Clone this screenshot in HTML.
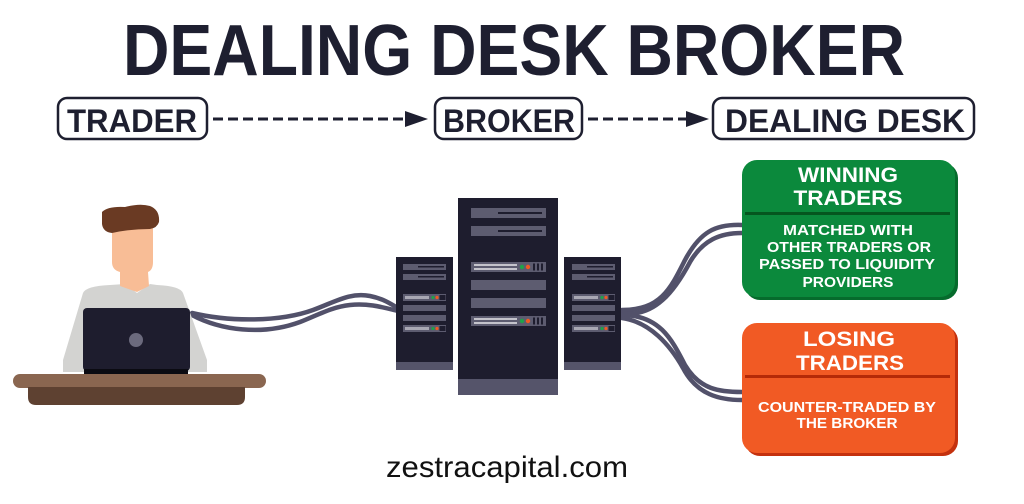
<!DOCTYPE html>
<html><head><meta charset="utf-8"><style>
html,body{margin:0;padding:0;background:#fff;}
svg{display:block;}
text{font-family:"Liberation Sans",Arial,sans-serif;}
</style></head><body>
<svg width="1024" height="504" viewBox="0 0 1024 504" xmlns="http://www.w3.org/2000/svg">
<rect width="1024" height="504" fill="#fff"/>
<!-- Title -->
<text x="123" y="75" font-size="72" font-weight="bold" fill="#1e1f30" textLength="782" lengthAdjust="spacingAndGlyphs">DEALING DESK BROKER</text>

<!-- Row 2 -->
<g fill="none" stroke="#1e1f30" stroke-width="2.5">
<rect x="58" y="98" width="149" height="41" rx="9"/>
<rect x="435" y="98" width="147" height="41" rx="9"/>
<rect x="713" y="98" width="261" height="41" rx="9"/>
</g>
<g font-size="32" font-weight="bold" fill="#1e1f30">
<text x="67" y="132" textLength="130" lengthAdjust="spacingAndGlyphs">TRADER</text>
<text x="443" y="132" textLength="132" lengthAdjust="spacingAndGlyphs">BROKER</text>
<text x="725" y="132" textLength="240" lengthAdjust="spacingAndGlyphs">DEALING DESK</text>
</g>
<g stroke="#1e1f30" stroke-width="3" stroke-dasharray="10 5">
<line x1="213" y1="119" x2="406" y2="119"/>
<line x1="588" y1="119" x2="687" y2="119"/>
</g>
<polygon points="405,111 428,119 405,127" fill="#1e1f30"/>
<polygon points="686,111 709,119 686,127" fill="#1e1f30"/>

<!-- Cables -->
<g fill="none" stroke="#52516a" stroke-width="4.5" stroke-linecap="round">
<path d="M192,313 C230,322 280,322 313,310 C335,302 350,292 370,296 C385,299 392,305 398,308"/>
<path d="M192,315 C220,330 262,336 300,322 C320,314 332,307 350,305 C370,303 385,308 398,311"/>
<path d="M622,310 C660,310 670,290 685,260 C700,232 715,224 742,225"/>
<path d="M622,313 C655,318 675,290 690,262 C703,240 720,233 742,233"/>
<path d="M622,315 C660,315 672,340 685,365 C700,390 720,392 742,392"/>
<path d="M622,318 C650,322 670,345 683,368 C697,395 720,400 742,400"/>
</g>

<!-- Person -->
<path d="M83,293 Q86,286 110,285 L125,284 L137,293 L150,284 L157,285 Q180,286 183,293 L207,360 L207,372 L63,372 L63,360 Z" fill="#d3d3d1"/>
<path d="M112,222 L153,222 L153,262 Q153,270 148,272 L149,286 L137,292 L120,286 L120,272 Q112,270 112,262 Z" fill="#f8bd96"/>
<path d="M102,212 Q108,206 125,207 Q140,203 150,206 Q160,210 159,222 Q157,228 150,229 Q130,229 112,233 Q103,232 102,224 Z" fill="#6a3a23"/>
<rect x="83" y="308" width="107" height="63" rx="4" fill="#1e1d2e"/>
<circle cx="136" cy="340" r="7" fill="#6b6a7d"/>
<rect x="84" y="369" width="104" height="6" fill="#0b0b12"/>
<rect x="13" y="374" width="253" height="14" rx="7" fill="#8a6650"/>
<path d="M28,387 L245,387 L245,397 Q245,405 237,405 L36,405 Q28,405 28,397 Z" fill="#5e4131"/>

<!-- Left server -->
<rect x="396" y="257" width="57" height="113" fill="#1e1d2e"/>
<rect x="396" y="362" width="57" height="8" fill="#55546a"/>
<g fill="#5d5c70">
<rect x="403" y="264" width="43" height="6"/>
<rect x="403" y="274" width="43" height="6"/>
<rect x="403" y="294" width="43" height="7"/>
<rect x="403" y="305" width="43" height="6"/>
<rect x="403" y="315" width="43" height="6"/>
<rect x="403" y="325" width="43" height="7"/>
</g>
<g fill="#1e1d2e"><rect x="418" y="266" width="26" height="1.5"/><rect x="418" y="276" width="26" height="1.5"/></g>
<g fill="#a9a8b4"><rect x="405" y="296" width="24" height="3"/><rect x="405" y="327" width="24" height="3"/></g>
<g><circle cx="433" cy="297.5" r="1.6" fill="#1fa34a"/><circle cx="437" cy="297.5" r="1.6" fill="#f05a23"/><rect x="439.5" y="295" width="6" height="5" fill="#1e1d2e"/>
<circle cx="433" cy="328.5" r="1.6" fill="#1fa34a"/><circle cx="437" cy="328.5" r="1.6" fill="#f05a23"/><rect x="439.5" y="326" width="6" height="5" fill="#1e1d2e"/></g>

<!-- Right server -->
<rect x="564" y="257" width="57" height="113" fill="#1e1d2e"/>
<rect x="564" y="362" width="57" height="8" fill="#55546a"/>
<g fill="#5d5c70">
<rect x="572" y="264" width="43" height="6"/>
<rect x="572" y="274" width="43" height="6"/>
<rect x="572" y="294" width="43" height="7"/>
<rect x="572" y="305" width="43" height="6"/>
<rect x="572" y="315" width="43" height="6"/>
<rect x="572" y="325" width="43" height="7"/>
</g>
<g fill="#1e1d2e"><rect x="587" y="266" width="26" height="1.5"/><rect x="587" y="276" width="26" height="1.5"/></g>
<g fill="#a9a8b4"><rect x="574" y="296" width="24" height="3"/><rect x="574" y="327" width="24" height="3"/></g>
<g><circle cx="602" cy="297.5" r="1.6" fill="#1fa34a"/><circle cx="606" cy="297.5" r="1.6" fill="#f05a23"/><rect x="608.5" y="295" width="6" height="5" fill="#1e1d2e"/>
<circle cx="602" cy="328.5" r="1.6" fill="#1fa34a"/><circle cx="606" cy="328.5" r="1.6" fill="#f05a23"/><rect x="608.5" y="326" width="6" height="5" fill="#1e1d2e"/></g>

<!-- Center server -->
<rect x="458" y="198" width="100" height="197" fill="#1e1d2e"/>
<rect x="458" y="379" width="100" height="16" fill="#55546a"/>
<g fill="#5d5c70">
<rect x="471" y="208" width="75" height="10"/>
<rect x="471" y="226" width="75" height="10"/>
<rect x="471" y="262" width="75" height="10"/>
<rect x="471" y="280" width="75" height="10"/>
<rect x="471" y="298" width="75" height="10"/>
<rect x="471" y="316" width="75" height="10"/>
</g>
<g fill="#1e1d2e"><rect x="498" y="212" width="44" height="2"/><rect x="498" y="230" width="44" height="2"/></g>
<g fill="#c4c3cb"><rect x="474" y="264" width="43" height="2"/><rect x="474" y="268" width="43" height="2"/><rect x="474" y="318" width="43" height="2"/><rect x="474" y="322" width="43" height="2"/></g>
<circle cx="522" cy="267" r="2.2" fill="#1fa34a"/><circle cx="528" cy="267" r="2.2" fill="#f05a23"/>
<circle cx="522" cy="321" r="2.2" fill="#1fa34a"/><circle cx="528" cy="321" r="2.2" fill="#f05a23"/>
<g fill="#1e1d2e">
<rect x="533" y="263.5" width="2" height="7"/><rect x="537" y="263.5" width="2" height="7"/><rect x="541" y="263.5" width="2" height="7"/>
<rect x="533" y="317.5" width="2" height="7"/><rect x="537" y="317.5" width="2" height="7"/><rect x="541" y="317.5" width="2" height="7"/>
</g>

<!-- Green box -->
<rect x="745" y="163" width="213" height="137" rx="15" fill="#066b2c"/>
<rect x="742" y="160" width="213" height="137" rx="15" fill="#0b893c"/>
<rect x="745" y="212" width="205" height="3" fill="#05561f"/>
<g fill="#fff" font-weight="bold" text-anchor="middle">
<text x="848" y="182" font-size="21" textLength="100" lengthAdjust="spacingAndGlyphs">WINNING</text>
<text x="848" y="205" font-size="21" textLength="109" lengthAdjust="spacingAndGlyphs">TRADERS</text>
<text x="848" y="235" font-size="14.5" textLength="130" lengthAdjust="spacingAndGlyphs">MATCHED WITH</text>
<text x="849" y="252" font-size="14.5" textLength="164" lengthAdjust="spacingAndGlyphs">OTHER TRADERS OR</text>
<text x="847" y="269" font-size="14.5" textLength="176" lengthAdjust="spacingAndGlyphs">PASSED TO LIQUIDITY</text>
<text x="848" y="287" font-size="14.5" textLength="91" lengthAdjust="spacingAndGlyphs">PROVIDERS</text>
</g>

<!-- Orange box -->
<rect x="745" y="326" width="213" height="130" rx="15" fill="#c4310e"/>
<rect x="742" y="323" width="213" height="130" rx="15" fill="#f15a24"/>
<rect x="745" y="375" width="205" height="3" fill="#b42a08"/>
<g fill="#fff" font-weight="bold" text-anchor="middle">
<text x="849" y="346" font-size="21" textLength="92" lengthAdjust="spacingAndGlyphs">LOSING</text>
<text x="850" y="370" font-size="21" textLength="108" lengthAdjust="spacingAndGlyphs">TRADERS</text>
<text x="847" y="412" font-size="14.5" textLength="178" lengthAdjust="spacingAndGlyphs">COUNTER-TRADED BY</text>
<text x="847" y="428" font-size="14.5" textLength="101" lengthAdjust="spacingAndGlyphs">THE BROKER</text>
</g>

<!-- Footer -->
<text x="386" y="477" font-size="30" fill="#111" textLength="242" lengthAdjust="spacingAndGlyphs">zestracapital.com</text>
</svg>
</body></html>
